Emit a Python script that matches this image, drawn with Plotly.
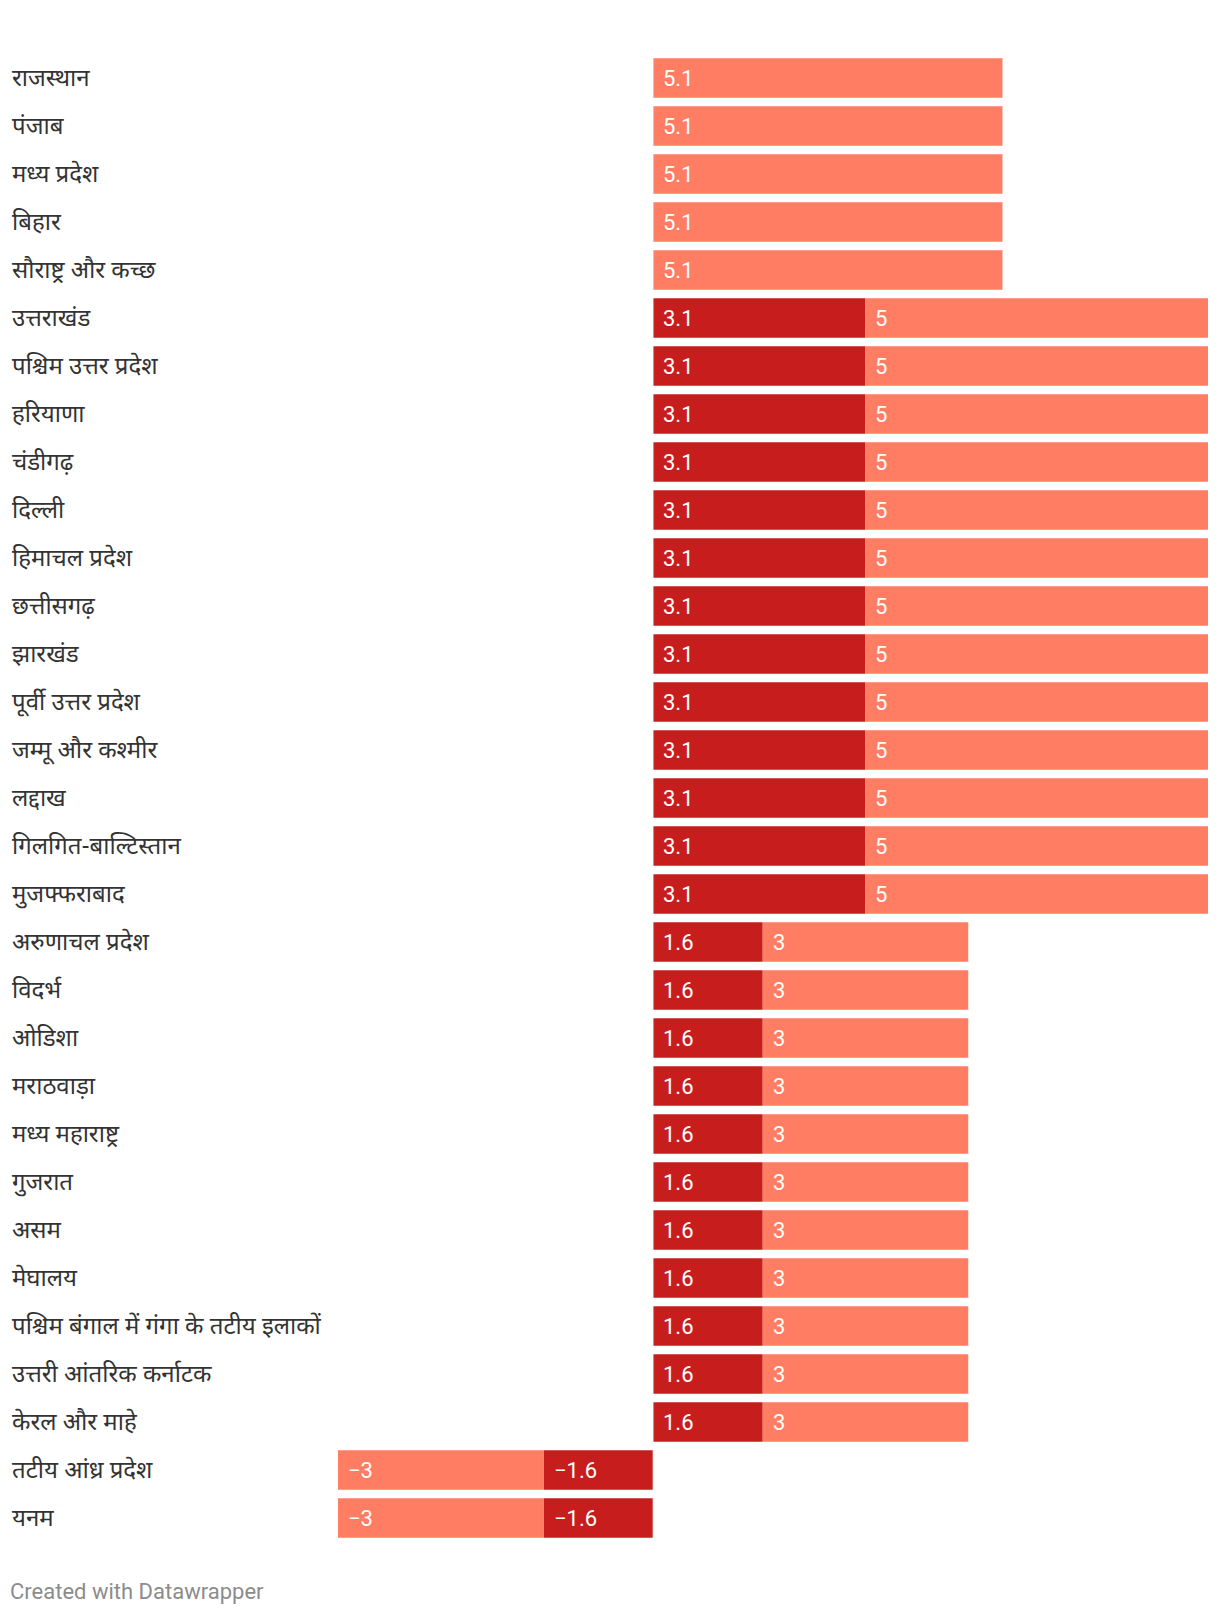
import plotly.graph_objects as go

categories = [
    "राजस्थान", "पंजाब", "मध्य प्रदेश", "बिहार", "सौराष्ट्र और कच्छ",
    "उत्तराखंड", "पश्चिम उत्तर प्रदेश", "हरियाणा", "चंडीगढ़", "दिल्ली",
    "हिमाचल प्रदेश", "छत्तीसगढ़", "झारखंड", "पूर्वी उत्तर प्रदेश", "जम्मू और कश्मीर",
    "लद्दाख", "गिलगित-बाल्टिस्तान", "मुजफ्फराबाद",
    "अरुणाचल प्रदेश", "विदर्भ", "ओडिशा", "मराठवाड़ा", "मध्य महाराष्ट्र",
    "गुजरात", "असम", "मेघालय", "पश्चिम बंगाल में गंगा के तटीय इलाकों",
    "उत्तरी आंतरिक कर्नाटक", "केरल और माहे",
    "तटीय आंध्र प्रदेश", "यनम",
]
dark_values = [None] * 5 + [3.1] * 13 + [1.6] * 11 + [-1.6] * 2
light_values = [5.1] * 5 + [5] * 13 + [3] * 11 + [-3] * 2

DARK = "#c71e1d"
LIGHT = "#ff7d63"

# figure is placed at page (8, 8) by the default body margin
W, H = 1212, 1606
ML, MR, MT, MB = 330, 12, 46, 72
XMIN, XMAX = -4.6, 8.1

def fmt(v):
    s = ("%g" % abs(v))
    return ("−" + s) if v < 0 else s

n = len(categories)
ys = list(range(n))

fig = go.Figure()
fig.add_trace(go.Bar(y=ys, x=dark_values, orientation="h", marker=dict(color=DARK, line=dict(width=0)),
                     name="dark", hoverinfo="skip"))
fig.add_trace(go.Bar(y=ys, x=light_values, orientation="h", marker=dict(color=LIGHT, line=dict(width=0)),
                     name="light", hoverinfo="skip"))

annotations = []
label_font = dict(family="Noto Sans Devanagari, Noto Sans, Lato, sans-serif", size=24, color="#333333")
value_font = dict(family="Roboto, sans-serif", size=22, color="#ffffff")
plot_w = W - ML - MR
plot_h = H - MT - MB
paper_left = (2 - ML) / plot_w
for i, cat in enumerate(categories):
    annotations.append(dict(x=paper_left, xref="paper", y=i, yref="y", text=cat, showarrow=False,
                            xanchor="left", yanchor="middle", yshift=-2, font=label_font))
    d = dark_values[i]
    l = light_values[i]
    if d is not None:
        left = d if d < 0 else 0
        annotations.append(dict(x=left, y=i, text=fmt(d), showarrow=False, xanchor="left",
                                yanchor="middle", xshift=8, font=value_font))
    base = d if d is not None else 0
    left = base + l if l < 0 else base
    annotations.append(dict(x=left, y=i, text=fmt(l), showarrow=False, xanchor="left",
                            yanchor="middle", xshift=8, font=value_font))

annotations.append(dict(x=(0 - ML) / plot_w, xref="paper", y=((H - MB) - 1583) / plot_h, yref="paper",
                        text="Created with Datawrapper", showarrow=False, xanchor="left",
                        yanchor="middle", font=dict(family="Roboto, sans-serif", size=22, color="#8c8c8c")))

fig.update_layout(
    width=W, height=H,
    margin=dict(l=ML, r=MR, t=MT, b=MB, pad=0),
    barmode="relative", bargap=0.173,
    plot_bgcolor="white", paper_bgcolor="white",
    showlegend=False,
    xaxis=dict(range=[XMIN, XMAX], visible=False, fixedrange=True),
    yaxis=dict(range=[n - 0.5, -0.5], visible=False, fixedrange=True),
    annotations=annotations,
    shapes=[dict(type="line", x0=0, x1=0, xref="x", y0=0, y1=1, yref="paper",
                 line=dict(color="rgba(255,255,255,0.35)", width=2), layer="above")],
    hovermode=False,
)

fig.write_html("out.html", config={"displayModeBar": False})
